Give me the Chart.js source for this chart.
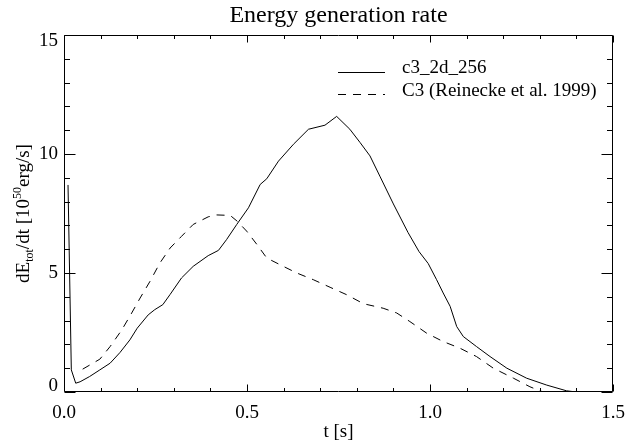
<!DOCTYPE html>
<html><head><meta charset="utf-8">
<script src="https://cdn.jsdelivr.net/npm/chart.js@4/dist/chart.umd.min.js"></script>
<style>html,body{margin:0;padding:0;background:#fff}#wrap{width:627px;height:440px}</style>
</head><body><div id="wrap"><canvas id="c" width="627" height="440"></canvas></div>
<script>
const titleText = "Energy generation rate";
const xTitle = "t [s]";
const seriesNames = ["c3_2d_256", "C3 (Reinecke et al. 1999)"];
const tSolid = [0.011, 0.020, 0.032, 0.044, 0.070, 0.098, 0.126, 0.153, 0.180, 0.200, 0.230, 0.248, 0.270, 0.290, 0.321, 0.353, 0.394, 0.422, 0.444, 0.472, 0.504, 0.536, 0.554, 0.586, 0.627, 0.668, 0.713, 0.745, 0.781, 0.809, 0.836, 0.863, 0.900, 0.940, 0.970, 0.995, 1.018, 1.036, 1.055, 1.073, 1.091, 1.127, 1.164, 1.210, 1.264, 1.319, 1.373, 1.400, 1.500];
const vSolid = [8.7, 0.93, 0.37, 0.43, 0.65, 0.93, 1.21, 1.66, 2.19, 2.68, 3.24, 3.46, 3.67, 4.10, 4.79, 5.28, 5.73, 5.95, 6.40, 7.04, 7.74, 8.72, 8.96, 9.70, 10.41, 11.04, 11.21, 11.58, 11.04, 10.48, 9.92, 9.07, 7.90, 6.70, 5.90, 5.40, 4.72, 4.16, 3.60, 2.75, 2.33, 1.91, 1.49, 1.00, 0.58, 0.29, 0.05, 0.0, 0.0];
const tDashed = [0.051, 0.098, 0.126, 0.158, 0.185, 0.208, 0.235, 0.262, 0.290, 0.321, 0.353, 0.394, 0.417, 0.454, 0.473, 0.499, 0.527, 0.554, 0.590, 0.636, 0.681, 0.727, 0.772, 0.818, 0.872, 0.909, 0.945, 0.991, 1.036, 1.082, 1.127, 1.173, 1.228, 1.273, 1.300, 1.310];
const vDashed = [0.96, 1.38, 1.91, 2.61, 3.32, 3.95, 4.65, 5.42, 6.05, 6.54, 7.04, 7.36, 7.44, 7.42, 7.18, 6.76, 6.20, 5.63, 5.35, 5.00, 4.72, 4.40, 4.09, 3.71, 3.52, 3.32, 2.96, 2.47, 2.12, 1.84, 1.49, 1.00, 0.58, 0.22, 0.05, 0.0];
const xTicks = [0, 0.5, 1.0, 1.5];
const yTicks = [0, 5, 10, 15];
const xMinorStep = 0.1;
const yMinorStep = 1;

const FONT = "'Liberation Serif', 'Times New Roman', serif";
const toPts = (ts, vs) => ts.map((t, i) => ({x: t, y: vs[i]}));

const decor = {
  id: 'decor',
  afterDraw(chart) {
    const ctx = chart.ctx, a = chart.chartArea;
    const xs = chart.scales.x, ys = chart.scales.y;
    ctx.save();
    ctx.strokeStyle = '#000';
    ctx.lineWidth = 1;
    const L = Math.round(a.left) + 0.5, R = Math.round(a.right) - 0.5;
    const T = Math.round(a.top) + 0.5, B = Math.round(a.bottom) - 0.5;
    ctx.beginPath();
    ctx.rect(L, T, R - L, B - T);
    const xMaj = 7, xMin = 3.5, yMaj = 11, yMin = 5.5;
    for (let v = xs.min; v <= xs.max + 1e-9; v += xMinorStep) {
      const isMaj = xTicks.some(t => Math.abs(t - v) < 1e-6);
      const len = isMaj ? xMaj : xMin;
      const p = Math.round(xs.getPixelForValue(v)) + 0.5;
      ctx.moveTo(p, B); ctx.lineTo(p, B - len);
      ctx.moveTo(p, T); ctx.lineTo(p, T + len);
    }
    for (let v = ys.min; v <= ys.max + 1e-9; v += yMinorStep) {
      const isMaj = yTicks.some(t => Math.abs(t - v) < 1e-6);
      const len = isMaj ? yMaj : yMin;
      const p = Math.round(ys.getPixelForValue(v)) + 0.5;
      ctx.moveTo(L, p); ctx.lineTo(L + len, p);
      ctx.moveTo(R, p); ctx.lineTo(R - len, p);
    }
    ctx.stroke();

    ctx.fillStyle = '#000';
    // y tick labels (end labels kept inside the axis span, as in the original)
    ctx.font = `19px ${FONT}`;
    ctx.textAlign = 'right';
    ctx.textBaseline = 'middle';
    yTicks.forEach((v, i) => {
      let p = ys.getPixelForValue(v);
      if (i === 0) p -= 6;
      if (i === yTicks.length - 1) p += 6;
      ctx.fillText(String(v), a.left - 6, p);
    });

    // title
    ctx.font = `24px ${FONT}`;
    ctx.textAlign = 'center';
    ctx.textBaseline = 'alphabetic';
    ctx.fillText(titleText, (a.left + a.right) / 2, 22);
    // x title
    ctx.font = `19px ${FONT}`;
    ctx.fillText(xTitle, (a.left + a.right) / 2, 437);

    // y title with sub/superscript
    const segs = [
      {t: 'dE', s: 19, dy: 0},
      {t: 'tot', s: 12, dy: 4},
      {t: '/dt [10', s: 19, dy: 0},
      {t: '50', s: 12, dy: -8},
      {t: 'erg/s]', s: 19, dy: 0}
    ];
    let total = 0;
    segs.forEach(g => { ctx.font = `${g.s}px ${FONT}`; g.w = ctx.measureText(g.t).width; total += g.w; });
    ctx.translate(29, (a.top + a.bottom) / 2);
    ctx.rotate(-Math.PI / 2);
    ctx.textAlign = 'left';
    let x0 = -total / 2;
    segs.forEach(g => { ctx.font = `${g.s}px ${FONT}`; ctx.fillText(g.t, x0, g.dy); x0 += g.w; });
    ctx.setTransform(1, 0, 0, 1, 0, 0);

    // legend
    const lx0 = 338, lx1 = 385, tx = 402;
    const rows = [{y: 72, ty: 68, dash: []}, {y: 94, ty: 91, dash: [8, 7]}];
    ctx.font = `19px ${FONT}`;
    ctx.textAlign = 'left';
    ctx.textBaseline = 'middle';
    rows.forEach((r, i) => {
      ctx.beginPath();
      ctx.setLineDash(r.dash);
      ctx.moveTo(lx0, r.y + 0.5); ctx.lineTo(lx1, r.y + 0.5);
      ctx.stroke();
      ctx.setLineDash([]);
      ctx.fillText(seriesNames[i], tx, r.ty);
    });
    ctx.restore();
  }
};

new Chart(document.getElementById('c'), {
  type: 'line',
  data: {
    datasets: [
      {label: seriesNames[0], data: toPts(tSolid, vSolid), borderColor: '#000', borderWidth: 1, pointRadius: 0, tension: 0, fill: false},
      {label: seriesNames[1], data: toPts(tDashed, vDashed), borderColor: '#000', borderWidth: 1, borderDash: [8, 7], pointRadius: 0, tension: 0, fill: false}
    ]
  },
  options: {
    responsive: false,
    animation: false,
    devicePixelRatio: 1,
    layout: {padding: {left: 0, right: 14, top: 35, bottom: 0}},
    plugins: {legend: {display: false}, title: {display: false}, tooltip: {enabled: false}},
    scales: {
      x: {
        type: 'linear', min: 0, max: 1.5,
        grid: {display: false}, border: {display: false},
        afterFit: s => { s.height = 48; },
        afterBuildTicks: s => { s.ticks = xTicks.map(v => ({value: v})); },
        ticks: {padding: 2, color: '#000', font: {family: FONT, size: 19}, maxRotation: 0, autoSkip: false,
          callback: v => Number(v).toFixed(1)}
      },
      y: {
        type: 'linear', min: 0, max: 15,
        grid: {display: false}, border: {display: false},
        afterFit: s => { s.width = 64; },
        afterBuildTicks: s => { s.ticks = yTicks.map(v => ({value: v})); },
        ticks: {display: false}
      }
    }
  },
  plugins: [decor]
});
</script></body></html>
